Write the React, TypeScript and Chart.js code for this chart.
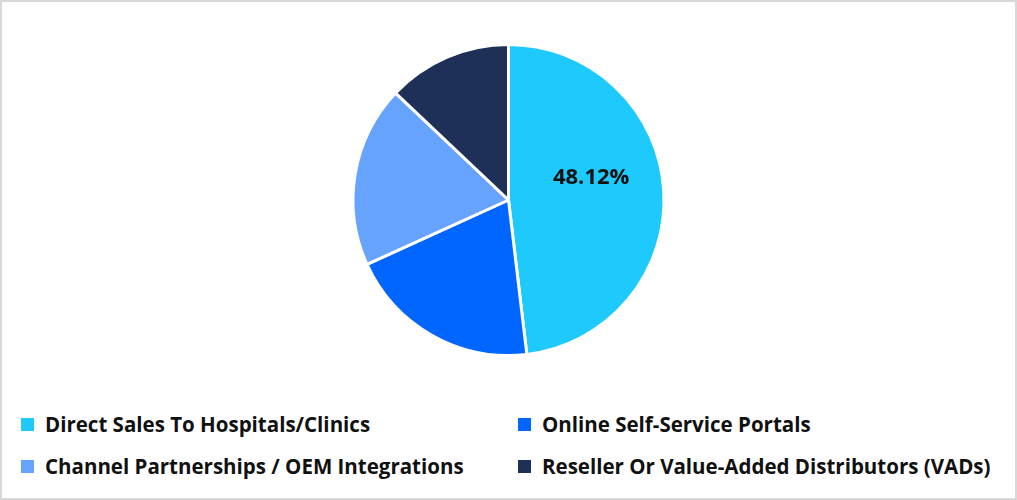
import React, { useEffect, useRef } from "react";
import { Chart, registerables } from "chart.js";

Chart.register(...registerables);

const categories = [
  "Direct Sales To Hospitals/Clinics",
  "Online Self-Service Portals",
  "Channel Partnerships / OEM Integrations",
  "Reseller Or Value-Added Distributors (VADs)",
];
const shares = [48.12, 20.08, 18.87, 12.93];
const colors = ["#1ec9fc", "#0066ff", "#66a3ff", "#1e3057"];
const shownLabels = [true, false, false, false];

const FONT = "'Open Sans', 'Noto Sans', sans-serif";

const labelPlugin = {
  id: "sliceLabels",
  afterDatasetsDraw(chart: any) {
    const meta = chart.getDatasetMeta(0);
    const ctx = chart.ctx;
    ctx.save();
    ctx.font = `700 22px ${FONT}`;
    ctx.fillStyle = "#111111";
    ctx.textAlign = "center";
    ctx.textBaseline = "middle";
    meta.data.forEach((arc: any, i: number) => {
      if (!shownLabels[i]) return;
      const mid = (arc.startAngle + arc.endAngle) / 2 - 0.2;
      const r = arc.outerRadius * 0.55;
      const x = arc.x + Math.cos(mid) * r;
      const y = arc.y + Math.sin(mid) * r;
      ctx.fillText(shares[i].toFixed(2) + "%", x, y);
    });
    ctx.restore();
  },
};

export default function App() {
  const ref = useRef<HTMLCanvasElement | null>(null);
  useEffect(() => {
    if (!ref.current) return;
    const chart = new Chart(ref.current, {
      type: "pie",
      data: {
        labels: categories,
        datasets: [
          {
            data: shares,
            backgroundColor: colors,
            borderColor: "#ffffff",
            borderWidth: 3,
          },
        ],
      },
      options: {
        animation: false,
        responsive: false,
        maintainAspectRatio: false,
        layout: { padding: 0 },
        plugins: {
          legend: { display: false },
          tooltip: { enabled: false },
        },
      },
      plugins: [labelPlugin],
    });
    return () => chart.destroy();
  }, []);

  const item = (i: number) => (
    <div
      key={i}
      style={{
        display: "flex",
        alignItems: "center",
        height: 42,
        fontFamily: FONT,
        fontWeight: 700,
        fontSize: 20.5,
        color: "#111111",
        whiteSpace: "nowrap",
      }}
    >
      <span
        style={{
          display: "inline-block",
          width: 13,
          height: 13,
          background: colors[i],
          marginRight: 11,
        }}
      />
      <span>{categories[i]}</span>
    </div>
  );

  return (
    <div
      style={{
        position: "fixed",
        left: 0,
        top: 0,
        width: 1017,
        height: 500,
        boxSizing: "border-box",
        border: "2px solid #d9d9d9",
        background: "#ffffff",
      }}
    >
      <canvas
        ref={ref}
        width={1013}
        height={314}
        style={{ position: "absolute", left: 0, top: 41, width: 1013, height: 314 }}
      />
      <div
        style={{
          position: "absolute",
          left: 19,
          top: 401,
          display: "grid",
          gridTemplateColumns: "497px 480px",
        }}
      >
        {item(0)}
        {item(1)}
        {item(2)}
        {item(3)}
      </div>
    </div>
  );
}
